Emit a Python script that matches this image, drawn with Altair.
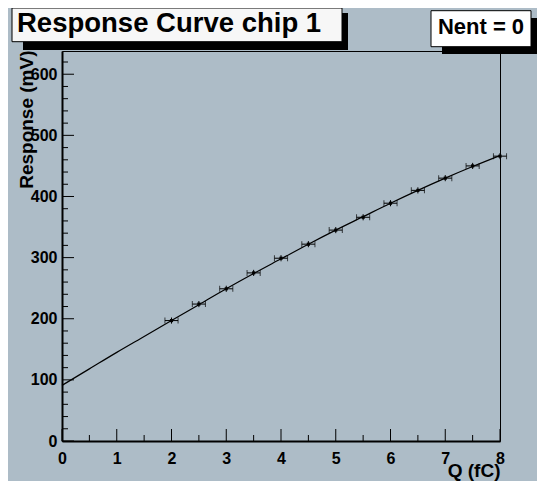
import altair as alt
import pandas as pd

# ---- data ----
q = [2.0, 2.5, 3.0, 3.5, 4.0, 4.5, 5.0, 5.5, 6.0, 6.5, 7.0, 7.5, 8.0]
resp = [197, 224, 249, 275, 299, 322, 345, 366, 389, 410, 430, 450, 466]
q_err = [0.12] * 13
resp_err = [5] * 13

fit_q = [0, 0.5, 1, 1.5, 2, 2.5, 3, 3.5, 4, 4.5, 5, 5.5, 6, 6.5, 7, 7.5, 8]
fit_r = [91, 118, 145, 171, 197, 223, 249, 274, 298, 322, 345, 367, 389, 410, 430, 449, 467]

x_major = [0, 1, 2, 3, 4, 5, 6, 7, 8]
x_minor = [0.5, 1.5, 2.5, 3.5, 4.5, 5.5, 6.5, 7.5]
y_major = [0, 100, 200, 300, 400, 500, 600]
y_minor = [20, 40, 60, 80, 120, 140, 160, 180, 220, 240, 260, 280, 320, 340, 360, 380,
           420, 440, 460, 480, 520, 540, 560, 580, 620]

title_text = "Response Curve chip 1"
stats_text = "Nent = 0"
x_title = "Q (fC)"
y_title = "Response (mV)"

W, H = 438, 390
FONT = "Liberation Sans"
BG = "#adbcc7"

pts = pd.DataFrame({
    "q": q, "resp": resp,
    "qlo": [a - b for a, b in zip(q, q_err)],
    "qhi": [a + b for a, b in zip(q, q_err)],
    "rlo": [a - b for a, b in zip(resp, resp_err)],
    "rhi": [a + b for a, b in zip(resp, resp_err)],
})
fit = pd.DataFrame({"q": fit_q, "resp": fit_r})

xscale = alt.Scale(domain=[0, 8], nice=False, zero=False)
yscale = alt.Scale(domain=[0, 638], nice=False, zero=False)

xaxis = alt.Axis(values=x_major, format="d", ticks=False, grid=False, labelFlush=False,
                 labelOverlap=False, labelFontSize=16, labelFontWeight="bold",
                 labelPadding=9, labelColor="black",
                 titleFontSize=19, titleFontWeight="bold", titleColor="black",
                 titleAlign="right", titleBaseline="alphabetic", titleX=W, titleY=35)
yaxis = alt.Axis(values=y_major, format="d", ticks=False, grid=False,
                 labelOverlap=False, labelFontSize=16, labelFontWeight="bold",
                 labelPadding=5, labelColor="black",
                 titleFontSize=19, titleFontWeight="bold", titleColor="black",
                 titleAngle=270, titleAlign="right", titleBaseline="alphabetic",
                 titleX=-30, titleY=-1)


def X(field):
    return alt.X(field, type="quantitative", scale=xscale, axis=xaxis, title=x_title)


def Y(field):
    return alt.Y(field, type="quantitative", scale=yscale, axis=yaxis, title=y_title)


curve = alt.Chart(fit).mark_line(color="black", strokeWidth=1.2, interpolate="monotone").encode(
    x=X("q"), y=Y("resp"))

herr = alt.Chart(pts).mark_rule(color="black", strokeWidth=1).encode(
    x=X("qlo"), x2="qhi", y=Y("resp"))
verr = alt.Chart(pts).mark_rule(color="black", strokeWidth=1).encode(
    x=X("q"), y=Y("rlo"), y2="rhi")
cap_lo = alt.Chart(pts).mark_tick(color="black", orient="vertical", size=6, thickness=1).encode(
    x=X("qlo"), y=Y("resp"))
cap_hi = alt.Chart(pts).mark_tick(color="black", orient="vertical", size=6, thickness=1).encode(
    x=X("qhi"), y=Y("resp"))
marker = alt.Chart(pts).mark_square(color="black", size=10, opacity=1).encode(
    x=X("q"), y=Y("resp"))

# inward axis ticks
xmaj = alt.Chart(pd.DataFrame({"v": x_major})).mark_rule(color="black", strokeWidth=1).encode(
    x=X("v"), y=alt.value(H), y2=alt.value(H - 12))
xmin = alt.Chart(pd.DataFrame({"v": x_minor})).mark_rule(color="black", strokeWidth=1).encode(
    x=X("v"), y=alt.value(H), y2=alt.value(H - 6))
ymaj = alt.Chart(pd.DataFrame({"v": y_major})).mark_rule(color="black", strokeWidth=1).encode(
    y=Y("v"), x=alt.value(0), x2=alt.value(12))
ymin = alt.Chart(pd.DataFrame({"v": y_minor})).mark_rule(color="black", strokeWidth=1).encode(
    y=Y("v"), x=alt.value(0), x2=alt.value(6))

one = pd.DataFrame({"a": [0]})

title_shadow = alt.Chart(one).mark_rect(color="black").encode(
    x=alt.value(-39), x2=alt.value(286), y=alt.value(-38), y2=alt.value(-1))
title_box = alt.Chart(one).mark_rect(fill="#f7f7f7", stroke="black", strokeWidth=1).encode(
    x=alt.value(-50), x2=alt.value(280), y=alt.value(-43), y2=alt.value(-9.3))
title_lbl = alt.Chart(one).mark_text(font=FONT, fontSize=27.5, fontWeight="bold", color="black",
                                     align="left", baseline="alphabetic").encode(
    x=alt.value(-45), y=alt.value(-19.5), text=alt.value(title_text))

stats_shadow = alt.Chart(one).mark_rect(color="black").encode(
    x=alt.value(380), x2=alt.value(476), y=alt.value(-33), y2=alt.value(3))
stats_box = alt.Chart(one).mark_rect(fill="white", stroke="black", strokeWidth=1).encode(
    x=alt.value(369), x2=alt.value(469), y=alt.value(-40.3), y2=alt.value(-4.3))
stats_lbl = alt.Chart(one).mark_text(font=FONT, fontSize=22, fontWeight="bold", color="black",
                                     align="center", baseline="alphabetic").encode(
    x=alt.value(419), y=alt.value(-17.5), text=alt.value(stats_text))

chart = alt.layer(
    curve, herr, verr, cap_lo, cap_hi, marker,
    xmaj, xmin, ymaj, ymin,
    title_shadow, title_box, title_lbl,
    stats_shadow, stats_box, stats_lbl,
).properties(
    width=W, height=H,
    padding={"left": 54, "top": 43, "right": 37, "bottom": 40},
    autosize=alt.AutoSizeParams(type="none"),
    background=BG,
).configure_view(
    stroke="black", strokeWidth=1
).configure_axis(
    domainColor="black", domainWidth=2, labelFont=FONT, titleFont=FONT
)

chart.save("out.html", embed_options={"renderer": "svg", "actions": False})
